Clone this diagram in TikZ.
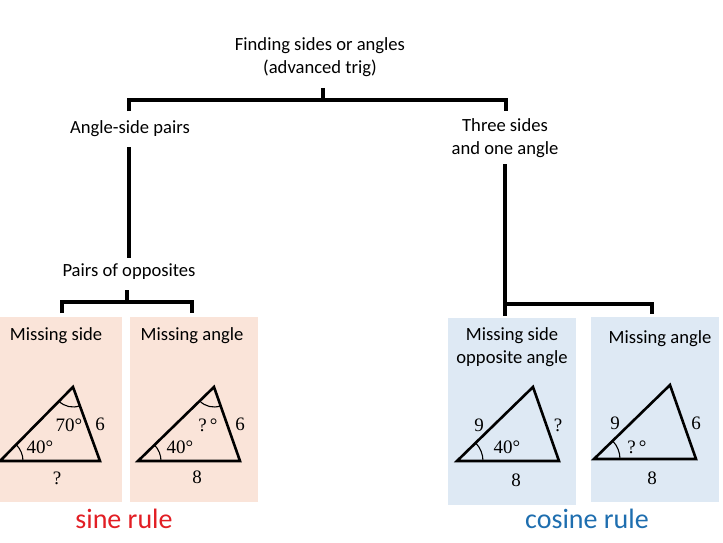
\documentclass[tikz,border=0pt]{standalone}
\usepackage{fontspec}
\setmainfont{Carlito}
\newfontfamily\mathlike{Liberation Serif}
\definecolor{pinkbg}{RGB}{250,228,217}
\definecolor{bluebg}{RGB}{222,233,244}
\definecolor{sinered}{RGB}{226,30,36}
\definecolor{cosblue}{RGB}{30,110,175}
\begin{document}
\begin{tikzpicture}[x=1pt,y=-1pt,
  lbl/.style={font=\fontsize{18.6}{22.5}\selectfont,align=center,inner sep=0pt},
  tlbl/.style={font=\mathlike\fontsize{19}{22}\selectfont,inner sep=0pt},
  conn/.style={line width=4pt},
  tri/.style={line width=2.6pt,line join=miter},
  angarc/.style={line width=1.1pt},
  box/.style={rectangle,inner sep=0pt,draw=none,anchor=north west}]
\useasboundingbox (0,0) rectangle (723,543);
% boxes
\node[box,fill=pinkbg,minimum width=122pt,minimum height=185pt] (b1) at (0,317) {};
\node[box,fill=pinkbg,minimum width=128pt,minimum height=185pt] (b2) at (130,317) {};
\node[box,fill=bluebg,minimum width=128pt,minimum height=187pt] (b3) at (448,318) {};
\node[box,fill=bluebg,minimum width=128pt,minimum height=185pt] (b4) at (591,317) {};
% text nodes
\node[lbl] (root) at (320,57) {Finding sides or angles\\(advanced trig)};
\node[lbl] (asp) at (130,129) {Angle-side pairs};
\node[lbl] (tsa) at (505,138) {Three sides\\and one angle};
\node[lbl] (poo) at (129,272) {Pairs of opposites};
\node[lbl] (ms1) at (56,336) {Missing side};
\node[lbl] (ma1) at (192,336) {Missing angle};
\node[lbl] (ms2) at (512,347) {Missing side\\opposite angle};
\node[lbl] (ma2) at (660,339) {Missing angle};
\node[font=\fontsize{28}{32}\selectfont,text=sinered,inner sep=0pt] (sine) at (124,519) {sine rule};
\node[font=\fontsize{28}{32}\selectfont,text=cosblue,inner sep=0pt] (cosine) at (587,519) {cosine rule};
% connector coordinates
\coordinate (j1) at (323,88);
\coordinate (j1b) at (323,100);
\coordinate (l1) at (129,100);
\coordinate (r1) at (506,100);
\coordinate (l1e) at (129,111);
\coordinate (r1e) at (506,111);
\coordinate (asd) at (129,147);
\coordinate (poot) at (129,258);
\coordinate (j2) at (127,290);
\coordinate (j2b) at (127,302);
\coordinate (l2) at (62,302);
\coordinate (r2) at (192,302);
\coordinate (l2e) at (62,313);
\coordinate (r2e) at (192,313);
\coordinate (tsd) at (505,164);
\coordinate (tsb) at (505,316);
\coordinate (j3) at (505,304);
\coordinate (r3) at (652,304);
\coordinate (r3e) at (652,314);
% connectors
\draw[conn] (j1) -- (j1b);
\draw[conn] (l1e) -- (l1) -- (r1) -- (r1e);
\draw[conn] (asd) -- (poot);
\draw[conn] (j2) -- (j2b);
\draw[conn] (l2e) -- (l2) -- (r2) -- (r2e);
\draw[conn] (tsd) -- (tsb);
\draw[conn] (j3) -- (r3) -- (r3e);
% triangle 1
\coordinate (A1) at (0,461); \coordinate (B1) at (100,461); \coordinate (C1) at (73,387);
\draw[tri] (A1) -- (B1) -- (C1) -- cycle;
\draw[angarc] ([shift={(0:23pt)}]A1) arc[start angle=0,end angle=45,radius=23pt];
\draw[angarc] ([shift={(225:20pt)}]C1) arc[start angle=225,end angle=290,radius=20pt];
\node[tlbl] (t1a) at (69,425) {70°};
\node[tlbl] (t1b) at (100,424) {6};
\node[tlbl] (t1c) at (40,447) {40°};
\node[tlbl] (t1d) at (57,478) {?};
% triangle 2
\coordinate (A2) at (138,461); \coordinate (B2) at (240,461); \coordinate (C2) at (214,387);
\draw[tri] (A2) -- (B2) -- (C2) -- cycle;
\draw[angarc] ([shift={(0:23pt)}]A2) arc[start angle=0,end angle=44,radius=23pt];
\draw[angarc] ([shift={(224:20pt)}]C2) arc[start angle=224,end angle=289,radius=20pt];
\node[tlbl] (t2a) at (208,425) {?\,°};
\node[tlbl] (t2b) at (240,424) {6};
\node[tlbl] (t2c) at (180,447) {40°};
\node[tlbl] (t2d) at (197,477) {8};
% triangle 3
\coordinate (A3) at (457,461); \coordinate (B3) at (559,461); \coordinate (C3) at (533,387);
\draw[tri] (A3) -- (B3) -- (C3) -- cycle;
\draw[angarc] ([shift={(0:26pt)}]A3) arc[start angle=0,end angle=44,radius=26pt];
\node[tlbl] (t3a) at (479,425) {9};
\node[tlbl] (t3b) at (558,425) {?};
\node[tlbl] (t3c) at (507,447) {40°};
\node[tlbl] (t3d) at (516,480) {8};
% triangle 4
\coordinate (A4) at (594,459); \coordinate (B4) at (696,459); \coordinate (C4) at (670,385);
\draw[tri] (A4) -- (B4) -- (C4) -- cycle;
\draw[angarc] ([shift={(0:26pt)}]A4) arc[start angle=0,end angle=44,radius=26pt];
\node[tlbl] (t4a) at (615,423) {9};
\node[tlbl] (t4b) at (696,423) {6};
\node[tlbl] (t4c) at (637,447) {?\,°};
\node[tlbl] (t4d) at (652,478) {8};
\end{tikzpicture}
\end{document}
